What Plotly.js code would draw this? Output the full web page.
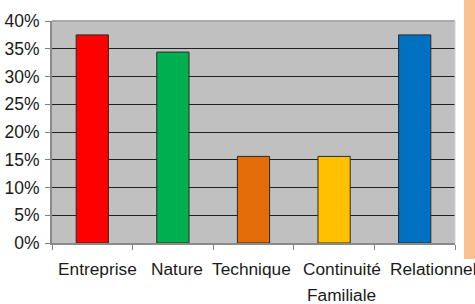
<!DOCTYPE html>
<html>
<head>
<meta charset="utf-8">
<script src="https://cdn.plot.ly/plotly-3.0.1.min.js"></script>
<style>html,body{margin:0;padding:0;background:#fff;}#chart{width:475px;height:304px;}</style>
</head>
<body>
<div id="chart"></div>
<script>
var categories = ["Entreprise", "Nature", "Technique", "Continuité", "Relationnel"];
var labelSecondLine = ["", "", "", "Familiale", ""];
var values = [0.375, 0.344, 0.156, 0.156, 0.375];
var colors = ["#ff0000", "#00b050", "#e36c09", "#ffc000", "#0070c0"];
var labelOffsets = [0.065, 0.051, -0.019, 0.092, 0.221];

var xs = categories.map(function (c, i) { return i; });

var trace = {
  type: "bar",
  x: xs,
  y: values,
  width: 0.4,
  marker: { color: colors, line: { color: "#2a2a2a", width: 1 } },
  hoverinfo: "none"
};

var FONT = "Liberation Sans, Arial, sans-serif";
var annotations = [];
categories.forEach(function (c, i) {
  annotations.push({
    x: i + labelOffsets[i], xref: "x", y: -0.063, yref: "paper",
    text: c, showarrow: false, yanchor: "top", xanchor: "center",
    font: { family: FONT, size: 17.3, color: "#1a1a1a" }
  });
  if (labelSecondLine[i]) {
    annotations.push({
      x: i + labelOffsets[i], xref: "x", y: -0.178, yref: "paper",
      text: labelSecondLine[i], showarrow: false, yanchor: "top", xanchor: "center",
      font: { family: FONT, size: 17.3, color: "#1a1a1a" }
    });
  }
});

var tickBounds = [];
for (var k = 0; k <= categories.length; k++) tickBounds.push(k - 0.5);

var layout = {
  width: 475, height: 304,
  margin: { l: 52, r: 20, t: 21, b: 61, pad: 0 },
  paper_bgcolor: "#ffffff",
  plot_bgcolor: "#c0c0c0",
  showlegend: false,
  font: { family: FONT, size: 17, color: "#1a1a1a" },
  xaxis: {
    range: [-0.5, categories.length - 0.5],
    tickmode: "array", tickvals: tickBounds, showticklabels: false,
    ticks: "outside", ticklen: 5, tickcolor: "#808080", tickwidth: 1,
    showgrid: false, zeroline: false,
    showline: true, linecolor: "#8a8a8a", linewidth: 2,
    fixedrange: true
  },
  yaxis: {
    range: [0, 0.4], dtick: 0.05, tickformat: ".0%",
    ticks: "outside", ticklen: 5, tickcolor: "#808080", tickwidth: 1,
    showgrid: true, gridcolor: "#1f1f1f", gridwidth: 1,
    zeroline: false,
    showline: true, linecolor: "#8a8a8a", linewidth: 2,
    tickfont: { family: FONT, size: 17.5, color: "#1a1a1a" },
    ticklabelstandoff: 2,
    fixedrange: true
  },
  annotations: annotations,
  shapes: [
    { type: "line", xref: "paper", yref: "paper", x0: 0, x1: 1, y0: 1, y1: 1,
      line: { color: "#a8a8a8", width: 2 } },
    { type: "line", xref: "paper", yref: "paper", x0: 1, x1: 1, y0: 0, y1: 1,
      line: { color: "#d0d0d0", width: 1 } },
    { type: "rect", xref: "paper", yref: "paper", x0: 1.0223, x1: 1.06, y0: -0.072, y1: 1.1,
      fillcolor: "#fac090", line: { width: 0 }, layer: "above" }
  ]
};

Plotly.newPlot("chart", [trace], layout, { displayModeBar: false, staticPlot: true });
</script>
</body>
</html>
